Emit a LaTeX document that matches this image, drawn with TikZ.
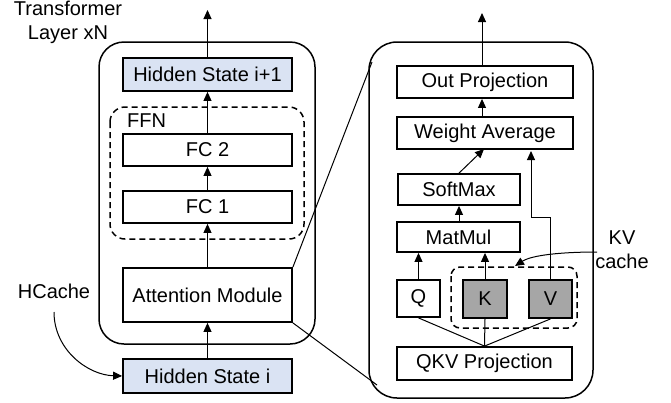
\documentclass[tikz,border=0pt]{standalone}
\usepackage{fontspec}
\setmainfont{Liberation Sans}
\usetikzlibrary{arrows.meta}
\definecolor{hsblue}{HTML}{DAE3F3}
\definecolor{kvgray}{HTML}{A6A6A6}
\begin{document}
\begin{tikzpicture}[x=1pt,y=-1pt,
  every node/.style={font=\fontsize{20}{24}\selectfont, inner sep=0pt},
  blk/.style={draw, line width=1.8pt, minimum width=169pt},
  conn/.style={line width=1pt, -{Triangle[length=9pt,width=8pt]}},
  plain/.style={line width=1pt},
  outer/.style={draw, line width=1.5pt},
  dashbox/.style={draw, line width=1.5pt, dash pattern=on 6pt off 4pt}]
\useasboundingbox (0,0) rectangle (671,402);
% left panel
\draw[outer, rounded corners=25pt] (99,42) rectangle (315,344);
\draw[dashbox, rounded corners=15pt] (110,107) rectangle (304,239);
\node[anchor=west] (ffn) at (127,121) {FFN};
\node[blk, fill=hsblue, minimum height=33pt] (hs1) at (207.5,74.5) {Hidden State i+1};
\node[blk, minimum height=32pt] (fc2) at (207.5,150) {FC 2};
\node[blk, minimum height=32pt] (fc1) at (207.5,207) {FC 1};
\node[blk, minimum height=54pt] (att) at (207.5,295) {Attention Module};
\node[blk, fill=hsblue, minimum height=34pt] (hs0) at (207.5,376) {Hidden State i};
\node[align=center] (tl) at (68,22) {Transformer\\Layer xN};
\node (hc) at (54,291) {HCache};
\coordinate (ltop) at (207.5,10);
\draw[conn] (hs1.north) -- (ltop);
\draw[conn] (fc2.north) -- (hs1.south);
\draw[conn] (fc1.north) -- (fc2.south);
\draw[conn] (att.north) -- (fc1.south);
\draw[conn] (hs0.north) -- (att.south);
\coordinate (hcs) at (54,312);
\draw[conn] (hcs) .. controls (54,350) and (88,375) .. (hs0.west);
% right panel
\draw[outer, rounded corners=28pt] (369,42) rectangle (593,398);
\draw[dashbox, rounded corners=9pt] (451,267) rectangle (577,328);
\node[blk, minimum width=176pt, minimum height=32pt] (out) at (485,82) {Out Projection};
\node[blk, minimum width=176pt, minimum height=32pt] (wa) at (485,133) {Weight Average};
\node[blk, minimum width=122pt, minimum height=31pt] (sm) at (459,189.5) {SoftMax};
\node[blk, minimum width=123pt, minimum height=30pt] (mm) at (458.5,237) {MatMul};
\node[blk, minimum width=43pt, minimum height=37pt] (q) at (418.5,298.5) {Q};
\node[blk, fill=kvgray, minimum width=44pt, minimum height=38pt] (k) at (485,299) {K};
\node[blk, fill=kvgray, minimum width=43pt, minimum height=38pt] (v) at (550.5,299) {V};
\node[blk, minimum width=175pt, minimum height=33pt] (qkv) at (484.5,363.5) {QKV Projection};
\node[align=center] (kvc) at (622,250) {KV\\cache};
\coordinate (rtop) at (482,13);
\draw[conn] (out.north -| rtop) -- (rtop);
\draw[conn] (wa.north -| rtop) -- (out.south -| rtop);
\coordinate (wain) at (484,149);
\draw[conn] (sm.north) -- (wain);
\draw[conn] (mm.north -| sm.north) -- (sm.south);
\draw[conn] (q.north) -- (mm.south -| q.north);
\draw[conn] (k.north) -- (mm.south -| k.north);
\coordinate (vt1) at (550.5,217);
\coordinate (vt2) at (531,217);
\coordinate (vtip) at (531,151);
\draw[conn] (v.north) -- (vt1) -- (vt2) -- (vtip);
\draw[plain] (q.south) -- (qkv.north);
\draw[plain] (k.south) -- (qkv.north);
\draw[plain] (v.south) -- (qkv.north);
\coordinate (kvs) at (597,252);
\coordinate (kvt) at (515,266);
\draw[conn] (kvs) .. controls (562,252) and (532,255) .. (kvt);
% zoom lines
\coordinate (z1) at (372,62);
\coordinate (z2) at (377,385);
\draw[plain] (att.north east) -- (z1);
\draw[plain] (att.south east) -- (z2);
\end{tikzpicture}
\end{document}
